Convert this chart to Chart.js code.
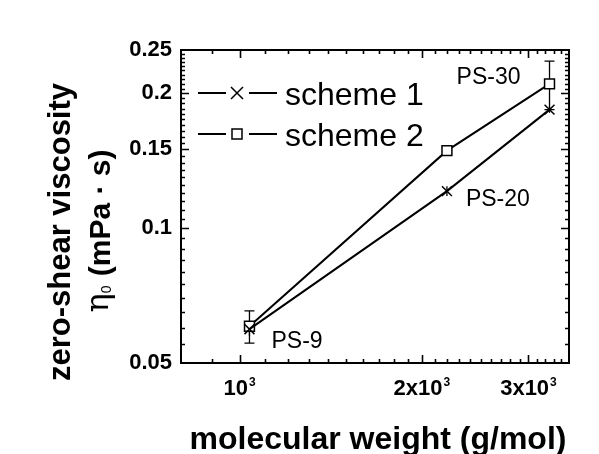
<!DOCTYPE html>
<html>
<head>
<meta charset="utf-8">
<script src="https://cdn.jsdelivr.net/npm/chart.js@4.4.1/dist/chart.umd.min.js"></script>
<style>
  html, body { margin: 0; padding: 0; background: #fff; }
  #wrap { width: 599px; height: 454px; }
</style>
</head>
<body>
<div id="wrap"><canvas id="c" width="599" height="454"></canvas></div>
<script>
// Zero-shear viscosity vs. molecular weight for the two schemes
const sampleNames      = ['PS-9', 'PS-20', 'PS-30'];
const molecularWeight  = [1038, 2200, 3250];
const scheme1Viscosity = [0.0595, 0.121, 0.184];
const scheme1Error     = [0.002, 0.003, 0.003];
const scheme2Viscosity = [0.0604, 0.149, 0.210];
const scheme2Error     = [0.005, 0.002, 0.026];
const seriesNames      = ['scheme 1', 'scheme 2'];

const yTickValues = [0.05, 0.1, 0.15, 0.2, 0.25];
const yTickLabels = ['0.05', '0.1', '0.15', '0.2', '0.25'];
const xTickValues = [1000, 2000, 3000];
const xTickBases  = ['10', '2x10', '3x10'];
const xTickExps   = ['3', '3', '3'];
const xRange = [800, 3500];
const yRange = [0.05, 0.25];

const FONT = "'Liberation Sans', Arial, sans-serif";
const INK = '#000';

// minor tick positions (every 100 g/mol and every 0.005 mPa·s)
const xMinor = [];
for (let v = 900; v < xRange[1]; v += 100) if (!xTickValues.includes(v)) xMinor.push(v);
const yMinor = [];
for (let k = 11; k < 50; k++) {
  const v = k * 0.005;
  if (!yTickValues.some(t => Math.abs(t - v) < 1e-9)) yMinor.push(v);
}
const yMajorInner = yTickValues.filter(v => v > yRange[0] && v < yRange[1]);

function drawMarker(ctx, style, x, y, half) {
  ctx.save();
  ctx.strokeStyle = INK;
  ctx.lineWidth = 1.5;
  ctx.beginPath();
  if (style === 'crossRot') {
    ctx.moveTo(x - half, y - half); ctx.lineTo(x + half, y + half);
    ctx.moveTo(x - half, y + half); ctx.lineTo(x + half, y - half);
    ctx.stroke();
  } else {
    ctx.fillStyle = '#fff';
    ctx.rect(x - half, y - half, half * 2, half * 2);
    ctx.fill();
    ctx.stroke();
  }
  ctx.restore();
}

const errorBars = {
  id: 'errorBars',
  beforeDatasetsDraw(chart) {
    const { ctx, scales: { x, y } } = chart;
    ctx.save();
    ctx.strokeStyle = INK;
    ctx.lineWidth = 1.3;
    chart.data.datasets.forEach(ds => {
      const cap = ds.capHalf;
      ds.data.forEach((p, i) => {
        const e = ds.errors[i];
        const px = x.getPixelForValue(p.x);
        const top = y.getPixelForValue(p.y + e);
        const bot = y.getPixelForValue(p.y - e);
        ctx.beginPath();
        ctx.moveTo(px, top); ctx.lineTo(px, bot);
        if (cap > 0) {
          ctx.moveTo(px - cap, top); ctx.lineTo(px + cap, top);
          ctx.moveTo(px - cap, bot); ctx.lineTo(px + cap, bot);
        }
        ctx.stroke();
      });
    });
    ctx.restore();
  }
};

const frame = {
  id: 'frame',
  afterDraw(chart) {
    const { ctx, chartArea: a, scales: { x, y } } = chart;
    ctx.save();
    ctx.strokeStyle = INK;
    ctx.fillStyle = INK;

    // ticks pointing inward on all four sides
    ctx.lineWidth = 1.6;
    const tickX = (v, len) => {
      const px = Math.round(x.getPixelForValue(v)) + 0.5;
      ctx.beginPath();
      ctx.moveTo(px, a.bottom); ctx.lineTo(px, a.bottom - len);
      ctx.moveTo(px, a.top); ctx.lineTo(px, a.top + len);
      ctx.stroke();
    };
    const tickY = (v, len) => {
      const py = Math.round(y.getPixelForValue(v)) + 0.5;
      ctx.beginPath();
      ctx.moveTo(a.left, py); ctx.lineTo(a.left + len, py);
      ctx.moveTo(a.right, py); ctx.lineTo(a.right - len, py);
      ctx.stroke();
    };
    xMinor.forEach(v => tickX(v, 4));
    xTickValues.forEach(v => tickX(v, 8));
    yMinor.forEach(v => tickY(v, 4));
    yMajorInner.forEach(v => tickY(v, 8));

    // plot frame
    ctx.lineWidth = 2;
    ctx.strokeRect(a.left, a.top, a.right - a.left, a.bottom - a.top);

    // x tick labels with superscript exponent
    ctx.textBaseline = 'alphabetic';
    xTickValues.forEach((v, i) => {
      const px = x.getPixelForValue(v);
      ctx.font = `bold 22px ${FONT}`;
      const wb = ctx.measureText(xTickBases[i]).width;
      ctx.font = `bold 12px ${FONT}`;
      const we = ctx.measureText(xTickExps[i]).width;
      const left = px - (wb + we + 1) / 2;
      ctx.font = `bold 22px ${FONT}`;
      ctx.textAlign = 'left';
      ctx.fillText(xTickBases[i], left, a.bottom + 32);
      ctx.font = `bold 12px ${FONT}`;
      ctx.fillText(xTickExps[i], left + wb + 1, a.bottom + 23);
    });

    // x axis title
    ctx.font = `bold 32px ${FONT}`;
    ctx.textAlign = 'center';
    ctx.fillText('molecular weight (g/mol)', 378, 449);

    // y axis title, two rotated lines
    ctx.save();
    ctx.translate(70, 232);
    ctx.rotate(-Math.PI / 2);
    ctx.font = `bold 31px ${FONT}`;
    ctx.textAlign = 'center';
    ctx.fillText('zero-shear viscosity', 0, 0);
    ctx.restore();

    ctx.save();
    ctx.translate(110, 231);
    ctx.rotate(-Math.PI / 2);
    ctx.textAlign = 'left';
    const etaFont = `32px 'DejaVu Serif', serif`;
    const subFont = `14px ${FONT}`;
    const unitFont = `bold 30px ${FONT}`;
    const unitText = ' (mPa \u00B7 s)';
    ctx.font = etaFont; const wEta = ctx.measureText('\u03B7').width;
    ctx.font = subFont; const wSub = ctx.measureText('0').width;
    ctx.font = unitFont; const wUnit = ctx.measureText(unitText).width;
    let cx = -(wEta + wSub + 1 + wUnit) / 2;
    ctx.font = etaFont; ctx.fillText('\u03B7', cx, -2); cx += wEta;
    ctx.font = subFont; ctx.fillText('0', cx, 1); cx += wSub + 1;
    ctx.font = unitFont; ctx.fillText(unitText, cx, 0);
    ctx.restore();

    // legend inside the plot, top left
    const styles = ['crossRot', 'rect'];
    const rows = [a.top + 43, a.top + 84];
    seriesNames.forEach((name, i) => {
      const ry = rows[i];
      ctx.lineWidth = 2;
      ctx.beginPath();
      ctx.moveTo(a.left + 17, ry); ctx.lineTo(a.left + 45, ry);
      ctx.moveTo(a.left + 68, ry); ctx.lineTo(a.left + 96, ry);
      ctx.stroke();
      drawMarker(ctx, styles[i], a.left + 56, ry, styles[i] === 'rect' ? 5 : 6);
      ctx.fillStyle = INK;
      ctx.font = `32px ${FONT}`;
      ctx.textAlign = 'left';
      ctx.fillText(name, a.left + 104, ry + 12);
    });

    // sample labels next to their points
    ctx.font = `23px ${FONT}`;
    const p9x = x.getPixelForValue(molecularWeight[0]);
    const p9y = y.getPixelForValue(scheme1Viscosity[0]);
    ctx.textAlign = 'left';
    ctx.fillText(sampleNames[0], p9x + 22, p9y + 19);
    const p20x = x.getPixelForValue(molecularWeight[1]);
    const p20y = y.getPixelForValue(scheme1Viscosity[1]);
    ctx.fillText(sampleNames[1], p20x + 19, p20y + 15);
    const p30x = x.getPixelForValue(molecularWeight[2]);
    const p30y = y.getPixelForValue(scheme2Viscosity[2]);
    ctx.textAlign = 'right';
    ctx.fillText(sampleNames[2], p30x - 29, p30y);

    ctx.restore();
  }
};

new Chart(document.getElementById('c'), {
  type: 'line',
  data: {
    datasets: [
      {
        label: seriesNames[0],
        data: molecularWeight.map((m, i) => ({ x: m, y: scheme1Viscosity[i] })),
        errors: scheme1Error,
        capHalf: 0,
        borderColor: INK,
        borderWidth: 2,
        pointStyle: 'crossRot',
        pointRadius: 7,
        pointBorderWidth: 1.5,
        pointBorderColor: INK,
        pointBackgroundColor: '#fff',
        tension: 0
      },
      {
        label: seriesNames[1],
        data: molecularWeight.map((m, i) => ({ x: m, y: scheme2Viscosity[i] })),
        errors: scheme2Error,
        capHalf: 5,
        borderColor: INK,
        borderWidth: 2,
        pointStyle: 'rect',
        pointRadius: 7,
        pointBorderWidth: 1.5,
        pointBorderColor: INK,
        pointBackgroundColor: '#fff',
        tension: 0
      }
    ]
  },
  options: {
    responsive: false,
    devicePixelRatio: 1,
    animation: false,
    layout: { padding: { left: 0, top: 50, right: 30, bottom: 0 } },
    plugins: { legend: { display: false }, tooltip: { enabled: false } },
    scales: {
      x: {
        type: 'logarithmic',
        min: xRange[0],
        max: xRange[1],
        grid: { display: false, drawTicks: false },
        border: { display: false },
        ticks: { display: false },
        afterFit(s) { s.height = 91; }
      },
      y: {
        type: 'logarithmic',
        min: yRange[0],
        max: yRange[1],
        grid: { display: false, drawTicks: false },
        border: { display: false },
        afterBuildTicks(s) { s.ticks = yTickValues.map(v => ({ value: v })); },
        ticks: {
          color: INK,
          padding: 9,
          font: { family: FONT, size: 22, weight: 'bold' },
          callback: (v) => {
            const i = yTickValues.findIndex(t => Math.abs(t - v) < 1e-9);
            return i >= 0 ? yTickLabels[i] : '';
          }
        },
        afterFit(s) { s.width = 181; }
      }
    }
  },
  plugins: [errorBars, frame]
});
</script>
</body>
</html>
